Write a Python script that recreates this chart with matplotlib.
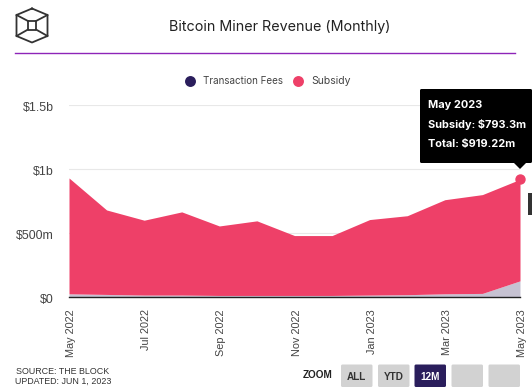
import matplotlib
matplotlib.use("Agg")
import matplotlib.pyplot as plt
from matplotlib.patches import FancyBboxPatch, Polygon, Rectangle
from matplotlib.transforms import ScaledTranslation

months = ["May 2022", "Jun 2022", "Jul 2022", "Aug 2022", "Sep 2022", "Oct 2022", "Nov 2022",
          "Dec 2022", "Jan 2023", "Feb 2023", "Mar 2023", "Apr 2023", "May 2023"]
fees = [0.025, 0.020, 0.015, 0.015, 0.012, 0.012, 0.012, 0.012, 0.015, 0.018, 0.025, 0.028, 0.126]
subsidy = [0.905, 0.660, 0.585, 0.650, 0.543, 0.583, 0.468, 0.468, 0.590, 0.617, 0.735, 0.772, 0.793]
yticks = [0, 0.5, 1.0, 1.5]
ylabels = ["$0", "$500m", "$1b", "$1.5b"]
legend_names = ["Transaction Fees", "Subsidy"]
zoom_buttons = ["ALL", "YTD", "12M", "", ""]

W, H = 532, 391
SUB = "#ee4068"
NAVY = "#2a1e5c"
FEE = "#c6c2d2"
fig = plt.figure(figsize=(W / 100, H / 100), dpi=100, facecolor="white")

L, R, T, B = 69, 520, 105, 297
ax = fig.add_axes([L / W, 1 - B / H, (R - L) / W, (B - T) / H])
x = list(range(len(months)))
total = [f + s for f, s in zip(fees, subsidy)]
ax.fill_between(x, 0, fees, color=FEE, lw=0, zorder=2)
ax.fill_between(x, fees, total, color=SUB, lw=0, zorder=2)
ax.set_xlim(0, 12)
ax.set_ylim(0, 1.5)
ax.set_yticks(yticks)
ax.set_yticklabels(ylabels, family="Liberation Sans", fontsize=8.9, color="#444444")
ax.set_xticks(x[::2])
ax.set_xticklabels(months[::2], rotation=90, family="Liberation Sans", fontsize=7.8, color="#444444")
ax.tick_params(axis="both", length=0)
ax.tick_params(axis="y", pad=11)
ax.tick_params(axis="x", pad=9)
dx = ScaledTranslation(2 / 100, 0, fig.dpi_scale_trans)
for lab in ax.get_xticklabels():
    lab.set_transform(lab.get_transform() + dx)
dy = ScaledTranslation(0, -1 / 100, fig.dpi_scale_trans)
for lab in ax.get_yticklabels():
    lab.set_transform(lab.get_transform() + dy)
ax.grid(axis="y", color="#e8e8e8", lw=0.8, zorder=1)
for s in ["top", "right", "left"]:
    ax.spines[s].set_visible(False)
ax.spines["bottom"].set_color("#222222")
ax.spines["bottom"].set_linewidth(1.0)
ax.spines["bottom"].set_zorder(4)
ax.scatter([12], [total[-1]], s=42, color=SUB, clip_on=False, zorder=5)

# chrome overlay in pixel coordinates
ov = fig.add_axes([0, 0, 1, 1], facecolor="none")
ov.set_xlim(0, W)
ov.set_ylim(H, 0)
ov.axis("off")
ov.plot([15, 515], [53, 53], color="#8e24b8", lw=1.0)
ov.text(280, 26.5, "Bitcoin Miner Revenue (Monthly)", ha="center", va="center",
        family="Inter", fontsize=10.3, color="#222222")

# logo
c = "#333333"
hexv = [(32, 8.5), (47.5, 15), (47.5, 36), (32, 42.5), (16.5, 36), (16.5, 15), (32, 8.5)]
ov.plot(*zip(*hexv), color=c, lw=1.3)
ov.plot([28, 36, 36, 28, 28], [21, 21, 29.5, 29.5, 21], color=c, lw=1.3)
for a, b in [((16.5, 15), (28, 21)), ((47.5, 15), (36, 21)), ((16.5, 36), (28, 29.5)), ((47.5, 36), (36, 29.5))]:
    ov.plot([a[0], b[0]], [a[1], b[1]], color=c, lw=1.3)

# legend
ov.scatter([189.5], [80.5], s=62, color=NAVY, lw=0)
ov.text(203, 81, legend_names[0], va="center", family="Inter", fontsize=7.1, color="#444444")
ov.scatter([298], [80.5], s=62, color=SUB, lw=0)
ov.text(311, 81, legend_names[1], va="center", family="Inter", fontsize=7.5, color="#444444")

# tooltip
ov.add_patch(FancyBboxPatch((420, 89), 112, 74, boxstyle="round,pad=0,rounding_size=1.5", fc="black", ec="none", zorder=6, clip_on=False))
ov.add_patch(Polygon([(514, 163), (526, 163), (520, 169)], fc="black", ec="none", zorder=6))
for y, s in zip([105.5, 124.5, 143.5], ["May 2023", "Subsidy: $793.3m", "Total: $919.22m"]):
    ov.text(428.5, y, s, va="center", family="Inter", fontsize=7.9, color="white", weight="bold", zorder=7)

# edge marker right of plot
ov.add_patch(Rectangle((528, 193), 4, 22, fc="#333333", ec="none"))

# footer
ov.text(16, 371.5, "SOURCE: THE BLOCK", va="center", family="Liberation Sans", fontsize=6.4, color="#333333")
ov.text(15, 381.5, "UPDATED: JUN 1, 2023", va="center", family="Liberation Sans", fontsize=6.4, color="#333333")
ov.text(303, 375.5, "ZOOM", va="center", family="Liberation Sans", fontsize=7.2, weight="bold", color="#222222")
for xb, lab in zip([341, 378, 414.5, 451.5, 488.5], zoom_buttons):
    active = lab == "12M"
    ov.add_patch(FancyBboxPatch((xb, 364.5), 31.5, 22.5, boxstyle="round,pad=0,rounding_size=1.5",
                                fc=NAVY if active else "#d2d2d2", ec="none"))
    ov.text(xb + 15.5, 376.5, lab, ha="center", va="center", family="Liberation Sans", fontsize=7.2,
            weight="bold", color="white" if active else "#333333")

fig.savefig("out.png", dpi=100)
